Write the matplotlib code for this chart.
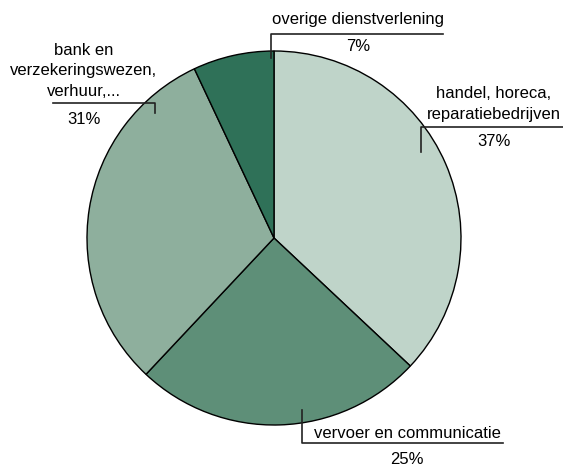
import matplotlib
matplotlib.use("Agg")
import matplotlib.pyplot as plt

labels = ["handel, horeca,\nreparatiebedrijven", "vervoer en communicatie",
          "bank en\nverzekeringswezen,\nverhuur,...", "overige dienstverlening"]
values = [37, 25, 31, 7]
colors = ["#bfd4c9", "#5e8f78", "#8eaf9d", "#2f7158"]

W, H = 563, 465
plt.rcParams['font.family'] = ['Liberation Sans', 'DejaVu Sans']
fig = plt.figure(figsize=(W / 100, H / 100), dpi=100)
ax = fig.add_axes([0, 0, 1, 1])

cx, cy, r = 274, H - 238, 187
ax.pie(values, colors=colors, startangle=90, counterclock=False,
       center=(cx, cy), radius=r, frame=True,
       wedgeprops=dict(edgecolor="black", linewidth=1.0))
ax.set_xlim(0, W)
ax.set_ylim(0, H)
ax.set_aspect("equal")
ax.axis("off")

def Y(py):
    return H - py

fs = 12
lc = "#222222"
lw = 1.2
ls = 1.45

# overige
ax.plot([271, 271, 443], [Y(58), Y(34), Y(34)], color=lc, lw=lw)
ax.text(358, Y(20), labels[3], ha="center", va="center", fontsize=fs)
ax.text(358, Y(47), f"{values[3]}%", ha="center", va="center", fontsize=fs)

# handel
ax.plot([421, 421, 563], [Y(152), Y(127), Y(127)], color=lc, lw=lw)
ax.text(494, Y(104), labels[0], ha="center", va="center", fontsize=fs, linespacing=ls)
ax.text(494, Y(142), f"{values[0]}%", ha="center", va="center", fontsize=fs)

# bank
ax.plot([53, 155, 155], [Y(103), Y(103), Y(113)], color=lc, lw=lw)
ax.text(84, Y(71), labels[2], ha="center", va="center", fontsize=fs, linespacing=ls)
ax.text(84, Y(119), f"{values[2]}%", ha="center", va="center", fontsize=fs)

# vervoer
ax.plot([302, 302, 503], [Y(410), Y(443), Y(443)], color=lc, lw=lw)
ax.text(407, Y(433), labels[1], ha="center", va="center", fontsize=fs)
ax.text(407, Y(459), f"{values[1]}%", ha="center", va="center", fontsize=fs)

fig.savefig("out.png", dpi=100)
